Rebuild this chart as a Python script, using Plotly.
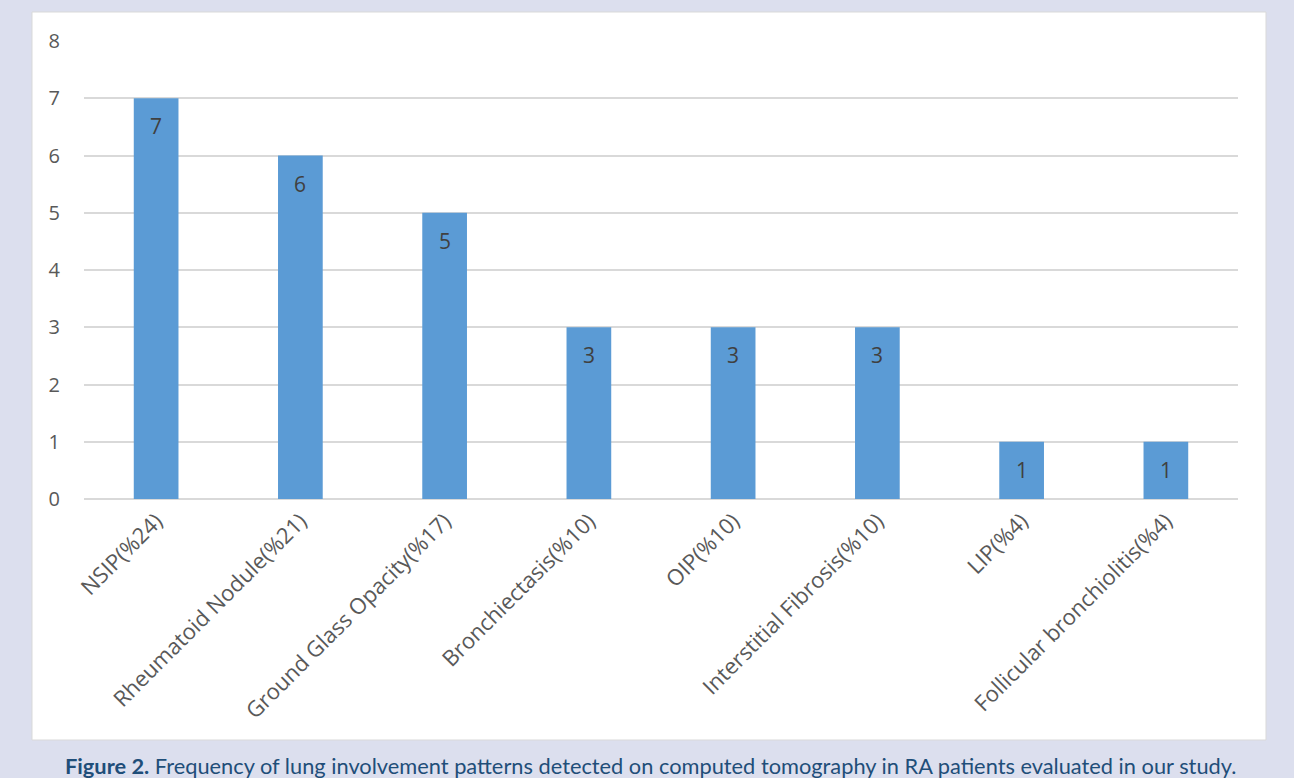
import plotly.graph_objects as go

categories = ["NSIP(%24)", "Rheumatoid Nodule(%21)", "Ground Glass Opacity(%17)",
              "Bronchiectasis(%10)", "OIP(%10)", "Interstitial Fibrosis(%10)",
              "LIP(%4)", "Follicular bronchiolitis(%4)"]
values = [7, 6, 5, 3, 3, 3, 1, 1]
y_ticks = [0, 1, 2, 3, 4, 5, 6, 7, 8]

W, H = 1294, 778
L, R, T, B = 84, 56, 41, 279
pw, ph = W - L - R, H - T - B

def px(x):
    return (x - L) / pw

def py(y):
    return (H - B - y) / ph

FONT = "Open Sans"

fig = go.Figure(go.Bar(
    x=categories, y=values,
    marker=dict(color="#5b9bd5", line=dict(width=0)),
))

value_labels = [dict(x=c, y=v, xref="x", yref="y", text=str(v), showarrow=False,
                     yanchor="middle", yshift=-28,
                     font=dict(family=FONT, size=21, color="#404040"))
                for c, v in zip(categories, values)]

fig.update_layout(
    width=W, height=H,
    margin=dict(l=L, r=R, t=T, b=B),
    paper_bgcolor="#dcdfee",
    plot_bgcolor="#ffffff",
    bargap=0.69,
    showlegend=False,
    font=dict(family=FONT, size=20, color="#595959"),
    xaxis=dict(tickangle=-45, showgrid=False, showline=False, ticks="",
               ticklabelstandoff=4,
               tickfont=dict(family=FONT, size=22, color="#595959")),
    yaxis=dict(range=[0, 8], tickvals=y_ticks, showgrid=True, gridcolor="#d9d9d9",
               gridwidth=2, zeroline=True, zerolinecolor="#d9d9d9", zerolinewidth=2,
               showline=False, ticks="", ticklabelstandoff=23,
               tickfont=dict(family=FONT, size=20, color="#595959")),
    shapes=[dict(type="rect", xref="paper", yref="paper", layer="below",
                 x0=px(32), x1=px(1266), y0=py(740), y1=py(12),
                 fillcolor="#ffffff", line=dict(color="#d9d9d9", width=1))],
    annotations=value_labels + [dict(xref="paper", yref="paper", x=px(650), y=py(766),
                      xanchor="center", yanchor="middle", showarrow=False,
                      text="<b>Figure 2.</b> Frequency of lung involvement patterns detected on computed tomography in RA patients evaluated in our study.",
                      font=dict(family="Lato", size=21.8, color="#1f4e79"))],
)

fig.write_html("out.html")
